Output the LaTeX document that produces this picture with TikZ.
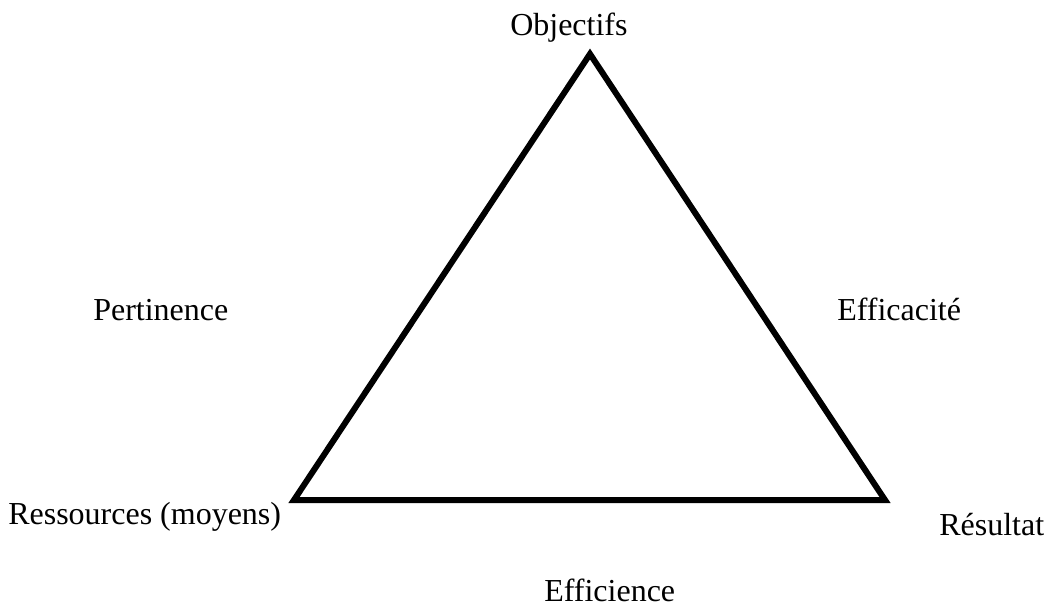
\documentclass[tikz,border=0pt]{standalone}
\usepackage{fontspec}
\setmainfont{Liberation Serif}
\begin{document}
\begin{tikzpicture}[x=0.75pt,y=-0.75pt,
  lbl/.style={anchor=base west,inner sep=0pt,font=\fontsize{24}{28}\selectfont},
  side/.style={line width=4.5pt,line join=miter}]
\useasboundingbox (0,0) rectangle (1047,607);
\coordinate (top) at (590,54);
\coordinate (bl) at (294,500);
\coordinate (br) at (885,500);
\draw[side] (top) -- (br) -- (bl) -- cycle;
\node[lbl] (obj) at (510,35) {Objectifs};
\node[lbl] (res) at (8,524) {Ressources (moyens)};
\node[lbl] (resu) at (939,535) {Résultat};
\node[lbl] (effi) at (544,601) {Efficience};
\node[lbl] (pert) at (93,320) {Pertinence};
\node[lbl] (effc) at (837,320) {Efficacité};
\end{tikzpicture}
\end{document}
